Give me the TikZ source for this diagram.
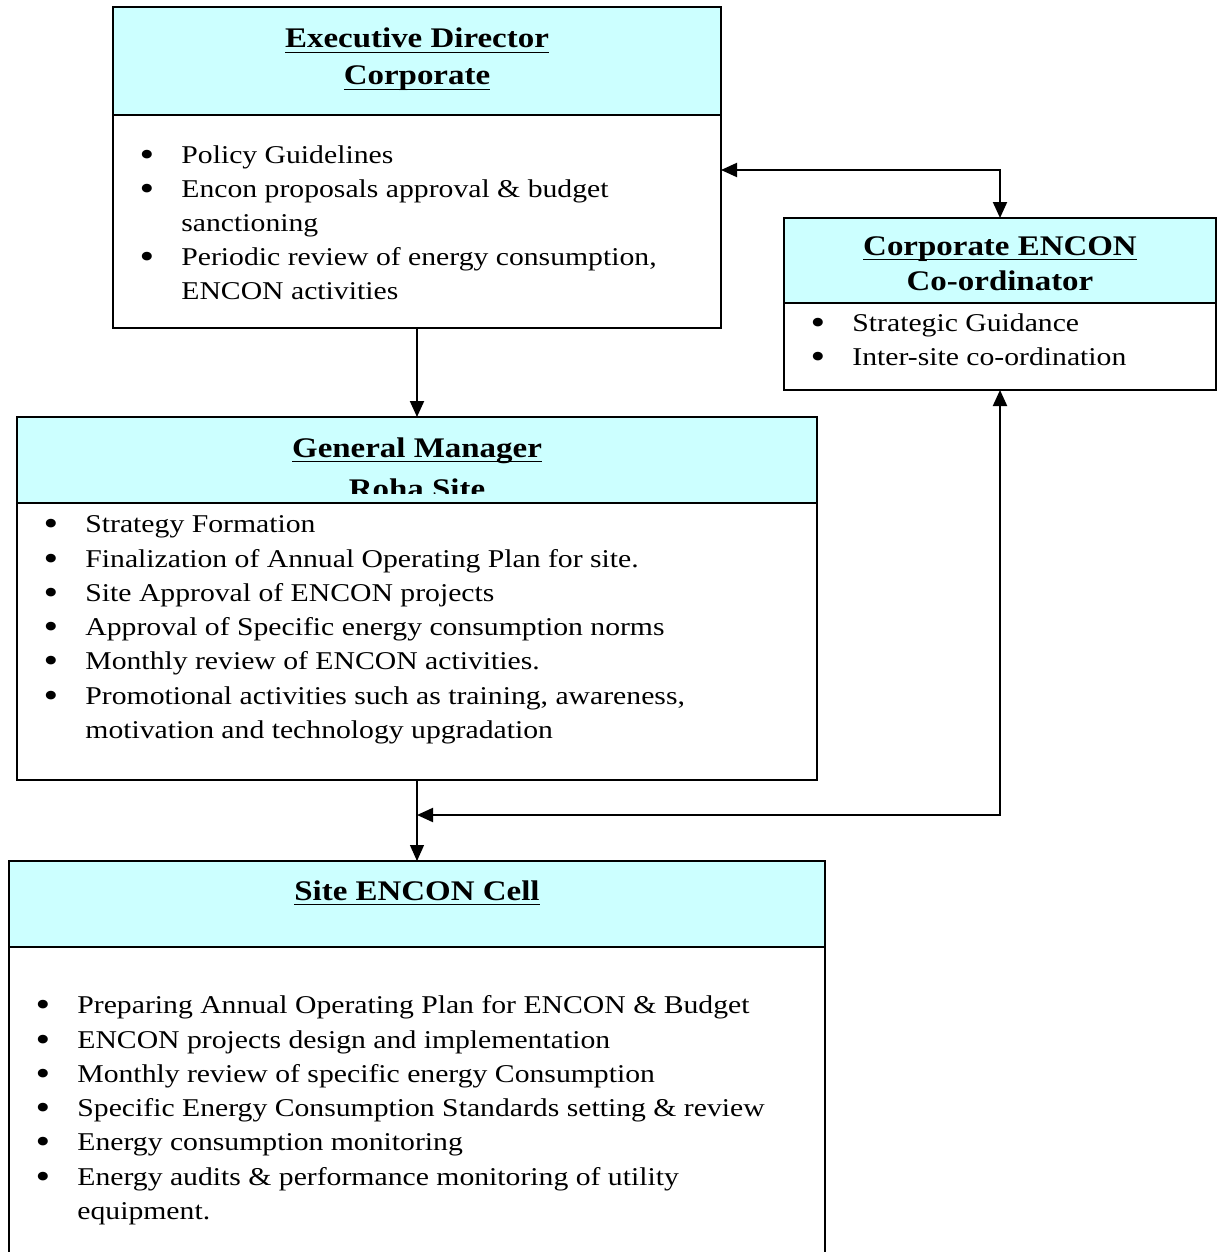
\documentclass[tikz,border=0pt]{standalone}
\usepackage{fontspec}
\setmainfont[FakeStretch=1.16]{Liberation Serif}
\usetikzlibrary{arrows.meta}
\definecolor{hdrcyan}{HTML}{CCFFFF}
\newcommand\myul[1]{\setbox0\hbox{#1}\rlap{\raisebox{-2.6pt}{\rule{\wd0}{0.75pt}}}\box0}
\tikzset{
  hdr/.style={draw, line width=1pt, fill=hdrcyan, anchor=north west, inner sep=0pt, outer sep=0pt},
  bodybox/.style={draw, line width=1pt, fill=white, anchor=north west, inner sep=0pt, outer sep=0pt},
  ttl/.style={font=\fontsize{14.2}{16}\selectfont\bfseries, anchor=base, inner sep=0pt},
  txt/.style={font=\fontsize{12.8}{15}\selectfont, anchor=base west, inner sep=0pt},
  bul/.style={font=\fontsize{18}{20}\selectfont, anchor=base, inner sep=0pt, yshift=-1.6pt},
  conn/.style={line width=1pt, -{Triangle[length=8pt,width=7pt]}},
  thinconn/.style={line width=0.6pt, -{Triangle[length=8pt,width=7pt]}},
  dbl/.style={line width=1pt, {Triangle[length=8pt,width=7pt]}-{Triangle[length=8pt,width=7pt]}}
}
\begin{document}
\begin{tikzpicture}[x=0.5pt,y=-0.5pt]
\clip (0,0) rectangle (1218,1252);
\useasboundingbox (0,0) rectangle (1218,1252);

% Executive Director
\node[hdr, minimum width=304pt, minimum height=54pt] (edh) at (113,7) {};
\node[bodybox, minimum width=304pt, minimum height=106.5pt] (edb) at (113,115) {};
\node[ttl] (edt1) at (417,48) {\myul{Executive Director}};
\node[ttl] (edt2) at (417,85) {\myul{Corporate}};
\node[bul] (edb1) at (147,163) {\textbullet};
\node[txt] (edl1) at (181,163) {Policy Guidelines};
\node[bul] (edb2) at (147,197) {\textbullet};
\node[txt] (edl2) at (181,197) {Encon proposals approval \& budget};
\node[txt] (edl3) at (181,231) {sanctioning};
\node[bul] (edb3) at (147,265) {\textbullet};
\node[txt] (edl4) at (181,265) {Periodic review of energy consumption,};
\node[txt] (edl5) at (181,299) {ENCON activities};

% Corporate ENCON Co-ordinator
\node[hdr, minimum width=216pt, minimum height=42.5pt] (corph) at (784,218) {};
\node[bodybox, minimum width=216pt, minimum height=43.5pt] (corpb) at (784,303) {};
\node[ttl] (cot1) at (1000,255) {\myul{Corporate ENCON}};
\node[ttl] (cot2) at (1000,290) {Co-ordinator};
\node[bul] (cob1) at (818,331) {\textbullet};
\node[txt] (col1) at (852,331) {Strategic Guidance};
\node[bul] (cob2) at (818,365) {\textbullet};
\node[txt] (col2) at (852,365) {Inter-site co-ordination};

% General Manager
\node[hdr, minimum width=400pt, minimum height=43pt] (gmh) at (17,417) {};
\node[ttl] (gmt1) at (417,457) {\myul{General Manager}};
\begin{scope}
\clip (17,417) rectangle (817,493);
\node[ttl] (gmt2) at (417,498) {Roha Site};
\end{scope}
\node[bodybox, minimum width=400pt, minimum height=138.5pt] (gmb) at (17,503) {};
\node[bul] (gmb1) at (51,532) {\textbullet};
\node[txt] (gml1) at (85,532) {Strategy Formation};
\node[bul] (gmb2) at (51,567) {\textbullet};
\node[txt] (gml2) at (85,567) {Finalization of Annual Operating Plan for site.};
\node[bul] (gmb3) at (51,601) {\textbullet};
\node[txt] (gml3) at (85,601) {Site Approval of ENCON projects};
\node[bul] (gmb4) at (51,635) {\textbullet};
\node[txt] (gml4) at (85,635) {Approval of Specific energy consumption norms};
\node[bul] (gmb5) at (51,669) {\textbullet};
\node[txt] (gml5) at (85,669) {Monthly review of ENCON activities.};
\node[bul] (gmb6) at (51,704) {\textbullet};
\node[txt] (gml6) at (85,704) {Promotional activities such as training, awareness,};
\node[txt] (gml7) at (85,738) {motivation and technology upgradation};

% Site ENCON Cell
\node[hdr, minimum width=408pt, minimum height=43pt] (sith) at (9,861) {};
\node[bodybox, minimum width=408pt, minimum height=160pt] (sitb) at (9,947) {};
\node[ttl] (sitt) at (417,900) {\myul{Site ENCON Cell}};
\node[bul] (sib1) at (43,1013) {\textbullet};
\node[txt] (sil1) at (77,1013) {Preparing Annual Operating Plan for ENCON \& Budget};
\node[bul] (sib2) at (43,1048) {\textbullet};
\node[txt] (sil2) at (77,1048) {ENCON projects design and implementation};
\node[bul] (sib3) at (43,1082) {\textbullet};
\node[txt] (sil3) at (77,1082) {Monthly review of specific energy Consumption};
\node[bul] (sib4) at (43,1116) {\textbullet};
\node[txt] (sil4) at (77,1116) {Specific Energy Consumption Standards setting \& review};
\node[bul] (sib5) at (43,1150) {\textbullet};
\node[txt] (sil5) at (77,1150) {Energy consumption monitoring};
\node[bul] (sib6) at (43,1185) {\textbullet};
\node[txt] (sil6) at (77,1185) {Energy audits \& performance monitoring of utility};
\node[txt] (sil7) at (77,1219) {equipment.};

% Connectors
\coordinate (edr) at (edb.east |- 0,170);
\coordinate (jn) at (417,815);
\draw[conn] (edb.south) -- (gmh.north);
\draw[dbl] (edr) -| (corph.north);
\draw[thinconn] (gmb.south) -- (sith.north);
\draw[dbl] (corpb.south) |- (jn);
\end{tikzpicture}
\end{document}
